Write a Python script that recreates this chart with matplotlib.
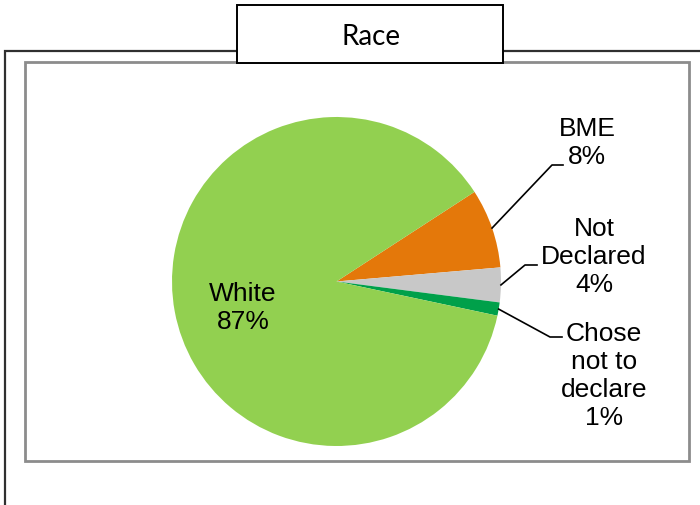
import matplotlib
matplotlib.use("Agg")
import numpy as np
from matplotlib import pyplot as plt
from matplotlib.patches import Rectangle

# data
categories = ["BME", "Not\nDeclared", "Chose\nnot to\ndeclare", "White"]
values = [7.8, 3.4, 1.3, 87.5]
pct_labels = ["8%", "4%", "1%", "87%"]
colors = ["#E4780A", "#C8C8C8", "#00A04A", "#92D050"]
title = "Race"

W, H = 700, 506


def Y(py):
    # pixel row (from top) -> data y (from bottom)
    return H - py


fig = plt.figure(figsize=(W / 100, H / 100), dpi=100)
ax = fig.add_axes([0, 0, 1, 1])

# outer frame (only top and left visible)
ax.plot([5, 5, 700], [Y(506), Y(52), Y(52)], color="#303030", lw=1.6,
        solid_joinstyle="miter", zorder=1)
# plot area box
ax.add_patch(Rectangle((25, Y(462)), 664, 399, fill=False,
                       edgecolor="#8C8C8C", lw=2, zorder=1))
# title box
ax.add_patch(Rectangle((237, Y(64)), 266, 58, facecolor="white",
                       edgecolor="black", lw=1.4, zorder=3))
ax.text(371, Y(45), title, ha="center", va="baseline", fontsize=20,
        family="Lato", zorder=4)

cx, cy, r = 336.5, Y(282.5), 164.5
wedges, _ = ax.pie(values, colors=colors, startangle=33, counterclock=False,
                   center=(cx, cy), radius=r, frame=True,
                   wedgeprops=dict(linewidth=0))

lab_font = dict(family="Liberation Sans", fontsize=19, linespacing=1.2,
                ha="center", va="center", multialignment="center")

# White label inside
ax.text(243, Y(308), categories[3].replace("\n", " ") + "\n" + pct_labels[3],
        **lab_font)

# outside labels with leader lines
elbows = [(552, 166), (525, 266), (550, 338)]
ends = [(563, 166), (537, 266), (562, 338)]
text_pos = [(587, 143), (594, 257), (604, 376)]
for i in range(3):
    w = wedges[i]
    mid = np.deg2rad((w.theta1 + w.theta2) / 2)
    sx, sy = cx + r * np.cos(mid), cy + r * np.sin(mid)
    ex, ey = elbows[i]
    fx, fy = ends[i]
    ax.plot([sx, ex, fx], [sy, Y(ey), Y(fy)], color="black", lw=1.2, zorder=2)
    tx, ty = text_pos[i]
    ax.text(tx, Y(ty), categories[i] + "\n" + pct_labels[i], **lab_font)

ax.set_xlim(0, W)
ax.set_ylim(0, H)
ax.set_aspect("equal")
ax.set_axis_off()

fig.savefig("out.png", dpi=100)
